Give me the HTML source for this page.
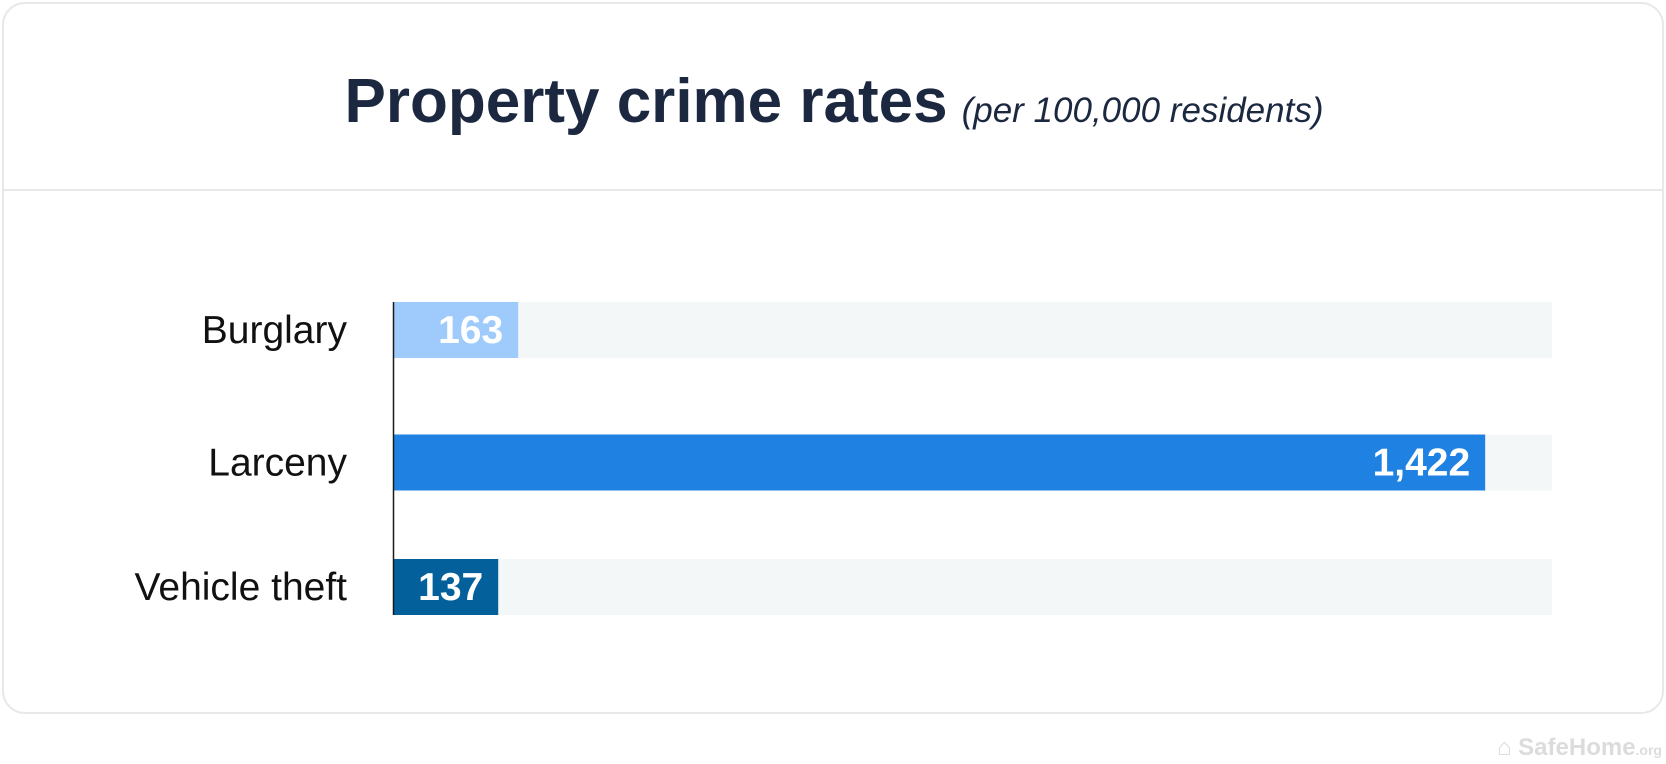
<!DOCTYPE html>
<html><head><meta charset="utf-8"><style>
html,body{margin:0;padding:0;background:#fff;width:1666px;height:764px;overflow:hidden;font-family:"Liberation Sans",sans-serif}
</style></head><body>
<svg width="1666" height="764" viewBox="0 0 1666 764" xmlns="http://www.w3.org/2000/svg">
<rect x="3" y="3" width="1660" height="710" rx="22" fill="#fff" stroke="#e6e8ea" stroke-width="2"/>
<line x1="4" y1="190" x2="1662" y2="190" stroke="#e6e8ea" stroke-width="2"/>
<text x="834" y="122" text-anchor="middle" fill="#1c2840" font-family="Liberation Sans, sans-serif"><tspan font-weight="bold" font-size="62">Property crime rates</tspan><tspan font-style="italic" font-size="35" dx="14">(per 100,000 residents)</tspan></text>
<g id="bars"></g>
<line x1="393.5" y1="302" x2="393.5" y2="615" stroke="#1a1a1a" stroke-width="1.5"/>
<text x="1662" y="755" text-anchor="end" fill="#dcdcdc" font-weight="bold" font-size="24">⌂ SafeHome<tspan font-size="14">.org</tspan></text>
</svg>
<script>
const categories = ["Burglary", "Larceny", "Vehicle theft"];
const values = [163, 1422, 137];
const valueLabels = ["163", "1,422", "137"];
const colors = ["#9fcbfc", "#1f82e2", "#03609b"];

const x0 = 393, trackEnd = 1552, domainMax = 1509;
const xScale = v => x0 + v / domainMax * (trackEnd - x0);
const yTops = i => 302 + i * 128.5 + (i === 1 ? 4 : 0);
const barH = 56;
const g = document.getElementById('bars');
const NS = "http://www.w3.org/2000/svg";
categories.forEach((c, i) => {
  const y = yTops(i);
  const track = document.createElementNS(NS, 'rect');
  
  
  track.setAttribute('x', x0); track.setAttribute('y', y);
  track.setAttribute('width', trackEnd - x0); track.setAttribute('height', barH);
  track.setAttribute('fill', '#f4f7f8');
  g.appendChild(track);
  const bar = document.createElementNS(NS, 'rect');
  
  
  bar.setAttribute('x', x0); bar.setAttribute('y', y);
  bar.setAttribute('width', xScale(values[i]) - x0); bar.setAttribute('height', barH);
  bar.setAttribute('fill', colors[i]);
  g.appendChild(bar);
  const lab = document.createElementNS(NS, 'text');
  
  
  lab.setAttribute('x', 347); lab.setAttribute('y', y + barH / 2 + 13);
  lab.setAttribute('text-anchor', 'end'); lab.setAttribute('font-size', '39');
  lab.setAttribute('fill', '#111');
  lab.textContent = c;
  g.appendChild(lab);
  const vl = document.createElementNS(NS, 'text');
  
  
  vl.setAttribute('x', xScale(values[i]) - 15); vl.setAttribute('y', y + barH / 2 + 13);
  vl.setAttribute('text-anchor', 'end'); vl.setAttribute('font-size', '39');
  vl.setAttribute('font-weight', 'bold'); vl.setAttribute('fill', '#fff');
  vl.textContent = valueLabels[i];
  g.appendChild(vl);
});
</script>
</body></html>
